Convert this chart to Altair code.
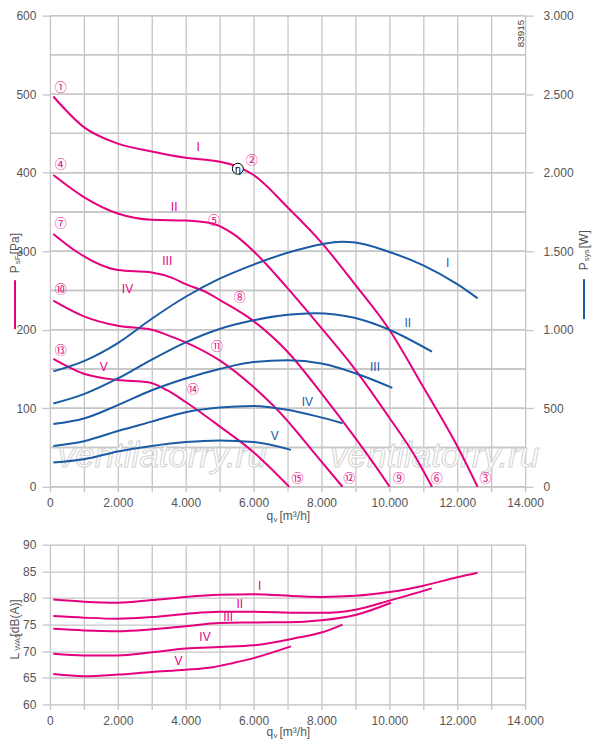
import altair as alt
import pandas as pd

PINK = "#e5007e"
BLUE = "#1b5aa5"
GRIDC = "#c6c6c6"
LABC = "#555555"
FONT = "Liberation Sans"

# ---------------- data ----------------
speeds = ["I", "II", "III", "IV", "V"]

# static pressure curves p_sF [Pa]
p_q = {
    "I":   [100, 1000, 2000, 3000, 4000, 5000, 5500, 6000, 7000, 8000, 9000, 10000, 11000, 12000, 12600],
    "II":  [100, 1000, 2000, 3000, 4000, 4800, 5400, 6000, 7000, 8000, 9000, 10000, 10700, 11256],
    "III": [100, 800, 2000, 3000, 3600, 4000, 4600, 5000, 6000, 7000, 8000, 9000, 9500, 10010],
    "IV":  [100, 1000, 2000, 3000, 3600, 4000, 5000, 6000, 7000, 7350, 8000, 8620],
    "V":   [100, 1000, 2000, 2900, 3450, 4000, 5000, 6000, 7050],
}
p_pa = {
    "I":   [497, 458, 437, 427, 419, 414, 408, 397, 356, 311, 257, 200, 127, 52, 0],
    "II":  [397, 369, 348, 340, 339, 335, 322, 300, 253, 202, 149, 88, 43, 0],
    "III": [322, 299, 276, 273, 266, 258, 248, 238, 211, 172, 119, 62, 32, 0],
    "IV":  [237, 217, 205, 200, 191, 184, 161, 127, 84, 66, 32, 0],
    "V":   [163, 144, 136, 133, 123, 108, 77, 44, 0],
}

# system power curves P_sys [W]
w_q = {
    "I":   [100, 1000, 2000, 3000, 4000, 5000, 6000, 7000, 8000, 8600, 9000, 10000, 11000, 12000, 12600],
    "II":  [100, 1000, 2000, 3000, 4000, 5000, 6000, 7000, 7800, 9000, 10000, 11256],
    "III": [100, 1000, 2000, 3000, 4000, 5000, 6000, 7000, 8000, 9159, 10087],
    "IV":  [100, 1000, 2000, 3000, 4000, 5000, 6000, 7000, 7840, 8620],
    "V":   [100, 1000, 2000, 3000, 4000, 5000, 6000, 7100],
}
w_w = {
    "I":   [735, 800, 915, 1070, 1210, 1325, 1415, 1490, 1545, 1560, 1555, 1495, 1410, 1290, 1200],
    "II":  [530, 590, 690, 810, 920, 1005, 1060, 1095, 1105, 1075, 1000, 860],
    "III": [400, 435, 520, 615, 690, 750, 795, 805, 785, 710, 630],
    "IV":  [260, 290, 355, 415, 475, 505, 515, 490, 450, 405],
    "V":   [155, 175, 225, 260, 285, 295, 285, 235],
}

# sound power L_WA5 [dB(A)]
l_q = {
    "I":   [100, 1000, 2000, 3000, 4000, 5000, 6000, 7350, 8000, 9000, 10000, 11000, 12000, 12600],
    "II":  [100, 1000, 2000, 3000, 4000, 5000, 6000, 7350, 8000, 9000, 10000, 11250],
    "III": [100, 1000, 2000, 3000, 4000, 5000, 6000, 7350, 8000, 9000, 10050],
    "IV":  [100, 1000, 2000, 3000, 4000, 5000, 6000, 7350, 8000, 8620],
    "V":   [100, 1000, 2000, 3000, 4000, 4800, 5400, 6000, 7100],
}
l_db = {
    "I":   [79.7, 79.3, 79.1, 79.6, 80.2, 80.6, 80.7, 80.3, 80.2, 80.4, 81.1, 82.3, 83.9, 84.75],
    "II":  [76.6, 76.3, 76.1, 76.4, 77.0, 77.4, 77.4, 77.2, 77.2, 77.8, 79.5, 81.8],
    "III": [74.2, 73.9, 73.75, 74.1, 74.7, 75.3, 75.4, 75.5, 75.8, 76.8, 79.1],
    "IV":  [69.5, 69.2, 69.2, 69.8, 70.5, 70.8, 71.1, 72.6, 73.5, 75.0],
    "V":   [65.7, 65.3, 65.6, 66.1, 66.5, 67.0, 67.8, 68.7, 70.9],
}

# annotations
circ_text = ["①", "②", "③", "④", "⑤", "⑥", "⑦", "⑧", "⑨", "⑩", "⑪", "⑫", "⑬", "⑭", "⑮"]
circ_q = [322, 5946, 12830, 322, 4833, 11394, 322, 5595, 10281, 322, 4921, 8817, 322, 4218, 7293]
circ_pa = [508, 415, 10, 410, 339, 10, 335, 241, 10, 251, 178, 10, 173, 123, 10]

eta_q = [5536]
eta_pa = [405]

pl_q = [4364, 3661, 3456, 2285, 1582]
pl_pa = [433, 356, 287, 252, 152]

bl_q = [11716, 10545, 9578, 7586, 6620]
bl_w = [1424, 1041, 765, 540, 326]

ll_q = [6180, 5595, 5252, 4569, 3788]
ll_db = [82.3, 78.8, 76.5, 72.6, 68.2]

wm_text = ["ventilatorry.ru", "ventilatorry.ru"]
wm_q = [3310, 11335]
wm_pa = [39, 39]

x_ticks = list(range(0, 14001, 1000))
pa_grid = list(range(0, 601, 50))
w_grid = list(range(0, 3001, 250))
pa_ticks = list(range(0, 601, 100))
w_ticks = list(range(0, 3001, 500))
db_ticks = list(range(60, 91, 5))


def long_df(qd, vd, name):
    rows = []
    for s in speeds:
        for q, v in zip(qd[s], vd[s]):
            rows.append({"speed": s, "q": q, name: v})
    return pd.DataFrame(rows)


p_df = long_df(p_q, p_pa, "pa")
w_df = long_df(w_q, w_w, "w")
l_df = long_df(l_q, l_db, "db")
circ_df = pd.DataFrame({"t": circ_text, "q": circ_q, "pa": circ_pa})
eta_df = pd.DataFrame({"q": eta_q, "pa": eta_pa})
pl_df = pd.DataFrame({"t": speeds, "q": pl_q, "pa": pl_pa})
bl_df = pd.DataFrame({"t": speeds, "q": bl_q, "w": bl_w})
ll_df = pd.DataFrame({"t": speeds, "q": ll_q, "db": ll_db})
wm_df = pd.DataFrame({"t": wm_text, "q": wm_q, "pa": wm_pa})
grid_df = pd.DataFrame({"pa": pa_grid})
wgrid_df = pd.DataFrame({"gw": w_grid})
one = pd.DataFrame({"a": [0]})

W = 476
H1 = 472
H2 = 160

# ---------------- axes ----------------
dot_fmt = "replace(format(datum.value, ','), ',', '.')"

x_axis = alt.Axis(
    values=x_ticks,
    labelExpr=f"datum.value % 2000 === 0 ? {dot_fmt} : ''",
    grid=True, gridColor=GRIDC, gridWidth=1.3, gridOpacity=1,
    domain=False, tickColor=GRIDC, tickSize=5, tickWidth=1.3,
    labelPadding=6, labelFontSize=12, labelColor=LABC, labelFont=FONT,
    labelFlush=False, labelOverlap=False, title=None,
)
X = alt.X("q:Q", scale=alt.Scale(domain=[0, 14000], nice=False), axis=x_axis)

pa_axis = alt.Axis(
    values=pa_ticks,
    grid=False, domain=False, tickSize=8, tickWidth=1.3, tickColor=GRIDC,
    labelPadding=6, labelFontSize=12, labelColor=LABC, labelFont=FONT,
    labelOverlap=False, labelFlush=False, title=None,
)
YPA = alt.Y("pa:Q", scale=alt.Scale(domain=[0, 600], nice=False), axis=pa_axis)

w_axis = alt.Axis(
    values=w_ticks, orient="right",
    labelExpr=dot_fmt,
    grid=False, domain=False, tickColor=GRIDC, tickSize=8, tickWidth=1.3,
    labelPadding=10, labelFontSize=12, labelColor=LABC, labelFont=FONT,
    labelOverlap=False, labelFlush=False, title=None,
)
YW = alt.Y("w:Q", scale=alt.Scale(domain=[0, 3000], nice=False), axis=w_axis)

db_axis = alt.Axis(
    values=db_ticks,
    grid=True, gridColor=GRIDC, gridWidth=1.3, gridOpacity=1,
    domain=False, tickColor=GRIDC, tickSize=8, tickWidth=1.3,
    labelPadding=6, labelFontSize=12, labelColor=LABC, labelFont=FONT,
    labelOverlap=False, labelFlush=False, title=None,
)
YDB = alt.Y("db:Q", scale=alt.Scale(domain=[60, 90], nice=False), axis=db_axis)


def txt(text, x, y, size=12, angle=0, align="left", color=LABC, baseline="middle"):
    return alt.Chart(one).mark_text(
        text=text, angle=angle, align=align, baseline=baseline,
        fontSize=size, font=FONT, color=color,
    ).encode(x=alt.value(x), y=alt.value(y))


# ---------------- top panel ----------------
# background horizontal grid (every 50 Pa = 250 W), own hidden scale
grid_group = alt.Chart(wgrid_df).mark_rule(color=GRIDC, strokeWidth=1.4).encode(
    y=alt.Y("gw:Q", scale=alt.Scale(domain=[0, 3000], nice=False), axis=None),
    x=alt.value(0), x2=alt.value(W),
)

hgrid = alt.Chart(grid_df).mark_rule(color=GRIDC, strokeWidth=1.4).encode(
    y=YPA, x=alt.value(0), x2=alt.value(W)
)

wm = alt.Chart(wm_df).mark_text(
    fontSize=35, font=FONT, fontStyle="italic", fill="white",
    stroke="#d2d2d2", strokeWidth=1,
).encode(x=X, y=YPA, text="t:N")

p_lines = alt.Chart(p_df).mark_line(
    color=PINK, strokeWidth=2, interpolate="monotone"
).encode(x=X, y=YPA, detail="speed:N", order="q:Q")

circ = alt.Chart(circ_df).mark_text(
    fontSize=12, font="Noto Sans CJK JP", color=PINK
).encode(x=X, y=YPA, text="t:N")

eta_pt = alt.Chart(eta_df).mark_point(
    shape="circle", size=120, filled=True, fill="white", stroke="black", strokeWidth=1, opacity=1
).encode(x=X, y=YPA)
eta_tx = alt.Chart(eta_df).mark_text(
    text="η", fontSize=10, font="DejaVu Sans", color="black", dy=1
).encode(x=X, y=YPA)

p_lab = alt.Chart(pl_df).mark_text(
    fontSize=12, font=FONT, color=PINK
).encode(x=X, y=YPA, text="t:N")

code_tx = txt("83915", W - 4, 4, size=10, angle=270, align="right", color="#444444")

# left title P_sF [Pa] + pink legend line
lt = [
    txt("P", -35, 258, angle=270),
    txt("sF", -32, 249, size=8, angle=270),
    txt("[Pa]", -35, 239, angle=270),
]
pink_leg = alt.Chart(one).mark_rule(color=PINK, strokeWidth=2).encode(
    x=alt.value(-35), y=alt.value(265), y2=alt.value(314)
)
# right title P_sys [W] + blue legend line
RX = W + 59
rt = [
    txt("P", RX, 255, angle=270),
    txt("sys", RX + 3, 246, size=8, angle=270),
    txt("[W]", RX, 233, angle=270),
]
blue_leg = alt.Chart(one).mark_rule(color=BLUE, strokeWidth=2).encode(
    x=alt.value(RX), y=alt.value(264), y2=alt.value(304)
)
# x title
xt_top = [
    txt("q", 217, H1 + 29),
    txt("v", 224, H1 + 33, size=8),
    txt("[m³/h]", 230, H1 + 29),
]

pink_group = alt.layer(
    hgrid, wm, p_lines, circ, eta_pt, eta_tx, p_lab, code_tx, pink_leg, blue_leg,
    *lt, *rt, *xt_top
)

w_lines = alt.Chart(w_df).mark_line(
    color=BLUE, strokeWidth=2, interpolate="monotone"
).encode(x=X, y=YW, detail="speed:N", order="q:Q")
w_lab = alt.Chart(bl_df).mark_text(
    fontSize=12, font=FONT, color=BLUE
).encode(x=X, y=YW, text="t:N")
blue_group = alt.layer(w_lines, w_lab)

top = alt.layer(grid_group, pink_group, blue_group).resolve_scale(y="independent").properties(
    width=W, height=H1
)

# ---------------- bottom panel ----------------
l_lines = alt.Chart(l_df).mark_line(
    color=PINK, strokeWidth=2, interpolate="monotone"
).encode(x=X, y=YDB, detail="speed:N", order="q:Q")
l_lab = alt.Chart(ll_df).mark_text(
    fontSize=12, font=FONT, color=PINK
).encode(x=X, y=YDB, text="t:N")

bt = [
    txt("L", -35, 115, angle=270),
    txt("WA5", -32, 106, size=8, angle=270),
    txt("[dB(A)]", -35, 92, angle=270),
]
xt_bot = [
    txt("q", 217, H2 + 28),
    txt("v", 224, H2 + 32, size=8),
    txt("[m³/h]", 230, H2 + 28),
]

bottom = alt.layer(l_lines, l_lab, *bt, *xt_bot).properties(width=W, height=H2)

chart = alt.vconcat(top, bottom, spacing=13).properties(padding=0).configure_view(
    stroke=None
).configure(background="white")

chart.save("out.html", embed_options={"renderer": "svg", "actions": False})
